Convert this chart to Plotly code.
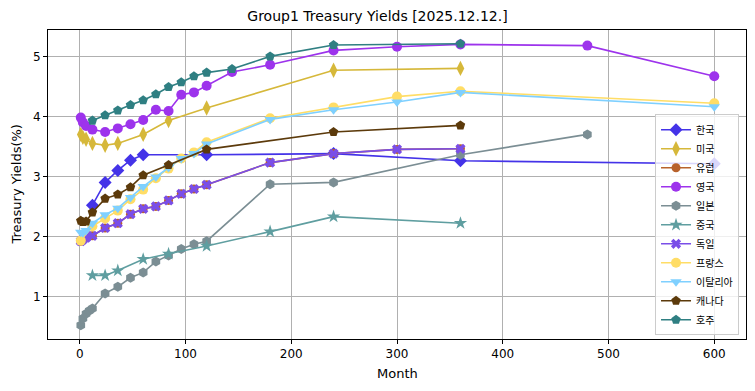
import plotly.graph_objects as go

title_text = "Group1 Treasury Yields [2025.12.12.]"
x_title = "Month"
y_title = "Treasury Yields(%)"

kr_m = [12, 24, 36, 48, 60, 120, 240, 360, 600]
kr_y = [2.52, 2.90, 3.10, 3.27, 3.36, 3.36, 3.38, 3.26, 3.21]

us_m = [1, 3, 6, 12, 24, 36, 60, 84, 120, 240, 360]
us_y = [3.70, 3.65, 3.62, 3.55, 3.52, 3.55, 3.70, 3.93, 4.14, 4.77, 4.80]

de_m = [1, 3, 6, 12, 24, 36, 48, 60, 72, 84, 96, 108, 120, 180, 240, 300, 360]
de_y = [1.92, 1.95, 1.98, 2.01, 2.14, 2.22, 2.37, 2.46, 2.50, 2.60, 2.71, 2.79, 2.86, 3.23, 3.38, 3.45, 3.46]

eu_m = [1, 3, 6, 12, 24, 36, 48, 60, 72, 84, 96, 108, 120, 180, 240, 300, 360]
eu_y = [1.92, 1.95, 1.98, 2.01, 2.14, 2.22, 2.37, 2.46, 2.50, 2.60, 2.71, 2.79, 2.86, 3.23, 3.38, 3.45, 3.46]

uk_m = [1, 3, 6, 12, 24, 36, 48, 60, 72, 84, 96, 108, 120, 144, 180, 240, 300, 360, 480, 600]
uk_y = [3.98, 3.90, 3.84, 3.78, 3.74, 3.80, 3.87, 3.94, 4.11, 4.09, 4.36, 4.40, 4.51, 4.74, 4.86, 5.10, 5.16, 5.20, 5.18, 4.67]

jp_m = [1, 3, 6, 9, 12, 24, 36, 48, 60, 72, 84, 96, 108, 120, 180, 240, 360, 480]
jp_y = [0.52, 0.63, 0.71, 0.76, 0.80, 1.05, 1.16, 1.31, 1.40, 1.58, 1.68, 1.79, 1.87, 1.92, 2.87, 2.90, 3.36, 3.70]

cn_m = [12, 24, 36, 60, 84, 120, 180, 240, 360]
cn_y = [1.35, 1.35, 1.43, 1.62, 1.71, 1.84, 2.08, 2.33, 2.22]

fr_m = [1, 12, 24, 36, 48, 60, 72, 84, 96, 108, 120, 180, 240, 300, 360, 600]
fr_y = [1.93, 2.17, 2.30, 2.43, 2.62, 2.78, 2.97, 3.13, 3.30, 3.40, 3.57, 3.97, 4.15, 4.33, 4.42, 4.22]

it_m = [1, 3, 6, 12, 24, 36, 48, 60, 72, 84, 96, 108, 120, 180, 240, 300, 360, 600]
it_y = [2.07, 2.06, 2.10, 2.22, 2.36, 2.47, 2.65, 2.83, 2.99, 3.15, 3.30, 3.38, 3.54, 3.95, 4.11, 4.24, 4.40, 4.16]

ca_m = [1, 3, 6, 12, 24, 36, 48, 60, 84, 120, 240, 360]
ca_y = [2.26, 2.24, 2.25, 2.40, 2.63, 2.70, 2.82, 3.02, 3.19, 3.45, 3.74, 3.85]

au_m = [12, 24, 36, 48, 60, 72, 84, 96, 108, 120, 144, 180, 240, 360]
au_y = [3.93, 4.02, 4.10, 4.19, 4.27, 4.37, 4.49, 4.57, 4.67, 4.73, 4.79, 5.00, 5.19, 5.21]

series = [
    ("한국", kr_m, kr_y, "#4433E8", "diamond", 10),
    ("미국", us_m, us_y, "#D6B83A", "diamond-tall", 11),
    ("유럽", eu_m, eu_y, "#B8622C", "circle", 9),
    ("영국", uk_m, uk_y, "#9D33EC", "circle", 10),
    ("일본", jp_m, jp_y, "#7B8E94", "hexagon", 10),
    ("중국", cn_m, cn_y, "#5F9EA0", "star", 10),
    ("독일", de_m, de_y, "#7A4EE8", "x", 9),
    ("프랑스", fr_m, fr_y, "#FFDD66", "circle", 10),
    ("이탈리아", it_m, it_y, "#7FD0FF", "triangle-down", 10),
    ("캐나다", ca_m, ca_y, "#5C3A0B", "pentagon", 10),
    ("호주", au_m, au_y, "#2F7F82", "pentagon", 10),
]

fig = go.Figure()
for name, m, y, c, sym, sz in series:
    fig.add_trace(go.Scatter(
        x=m, y=y, name=name, mode="lines+markers",
        line=dict(color=c, width=1.6),
        marker=dict(color=c, symbol=sym, size=sz, line=dict(width=0)),
    ))

axis_common = dict(
    showline=True, linecolor="black", linewidth=1, mirror=True,
    showgrid=True, gridcolor="#b0b0b0", gridwidth=1,
    ticks="outside", ticklen=4, tickcolor="black",
    tickfont=dict(family="DejaVu Sans", size=12, color="black"),
    zeroline=False, automargin=False,
)

title_font = dict(family="DejaVu Sans", size=13, color="black")

fig.update_layout(
    width=755, height=391,
    margin=dict(l=48, r=9, t=30, b=52),
    paper_bgcolor="white", plot_bgcolor="white",
    title=dict(text=title_text, x=0.5, xanchor="center", y=0.96, yanchor="middle",
               font=dict(family="DejaVu Sans", size=14, color="black")),
    xaxis=dict(range=[-30, 630], tickvals=[0, 100, 200, 300, 400, 500, 600], **axis_common),
    yaxis=dict(range=[0.29, 5.44], tickvals=[1, 2, 3, 4, 5], **axis_common),
    legend=dict(x=0.99, xanchor="right", y=0.012, yanchor="bottom",
                bgcolor="rgba(255,255,255,0.8)", bordercolor="#cccccc", borderwidth=1,
                font=dict(family="Noto Sans CJK KR", size=10, color="black"),
                tracegroupgap=0, itemwidth=30),
    showlegend=True,
    annotations=[
        dict(text=x_title, xref="paper", yref="paper", x=0.5, y=-0.113,
             xanchor="center", yanchor="middle", showarrow=False, font=title_font),
        dict(text=y_title, xref="paper", yref="paper", x=-0.0458, y=0.5,
             xanchor="center", yanchor="middle", textangle=-90, showarrow=False, font=title_font),
    ],
)

fig.write_html("out.html", config={"displayModeBar": False},
               post_script="document.body.style.margin='0';")
